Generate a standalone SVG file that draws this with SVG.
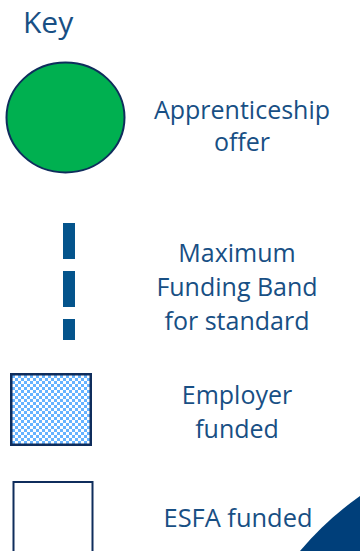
<svg xmlns="http://www.w3.org/2000/svg" width="360" height="551" viewBox="0 0 360 551">
  <style>
    .label { font-family: "Open Sans", "Noto Sans", "Liberation Sans", sans-serif; font-size: 25px; fill: #184f84; text-anchor: middle; }
    .title { font-family: "Open Sans", "Noto Sans", "Liberation Sans", sans-serif; font-size: 30px; fill: #184f84; }
    .frame { stroke: #0f2d5c; }
  </style>
  <defs>
    <!-- light blue / white checkerboard for employer-funded share -->
    <pattern id="checker" patternUnits="userSpaceOnUse" x="12" y="375" width="6" height="6">
      <rect width="6" height="6" fill="#ffffff"/>
      <rect width="3" height="3" fill="#66b3ff"/>
      <rect x="3" y="3" width="3" height="3" fill="#66b3ff"/>
    </pattern>
  </defs>

  <rect width="360" height="551" fill="#ffffff"/>

  <text class="title" x="23" y="32.5">Key</text>

  <g id="apprenticeship-offer">
    <ellipse cx="65.5" cy="117.5" rx="59" ry="55" fill="#00b050" class="frame" stroke-width="2"/>
    <text class="label" x="242" y="119">Apprenticeship</text>
    <text class="label" x="242" y="151">offer</text>
  </g>

  <g id="funding-band">
    <line x1="69" y1="223" x2="69" y2="340" stroke="#04548c" stroke-width="12" stroke-dasharray="36 12"/>
    <text class="label" x="237" y="262">Maximum</text>
    <text class="label" x="237" y="296">Funding Band</text>
    <text class="label" x="237" y="330">for standard</text>
  </g>

  <g id="employer-funded">
    <rect x="11.25" y="374.25" width="79.5" height="70.5" fill="url(#checker)" class="frame" stroke-width="2.5"/>
    <text class="label" x="237" y="404">Employer</text>
    <text class="label" x="237" y="438">funded</text>
  </g>

  <g id="esfa-funded">
    <rect x="13.5" y="482" width="79" height="90" fill="#ffffff" class="frame" stroke-width="2"/>
    <text class="label" x="238" y="527" textLength="149" lengthAdjust="spacingAndGlyphs">ESFA funded</text>
  </g>

  <!-- corner accent -->
  <path d="M300,551 Q326,520 360,496 L360,551 Z" fill="#003f7a"/>
</svg>
